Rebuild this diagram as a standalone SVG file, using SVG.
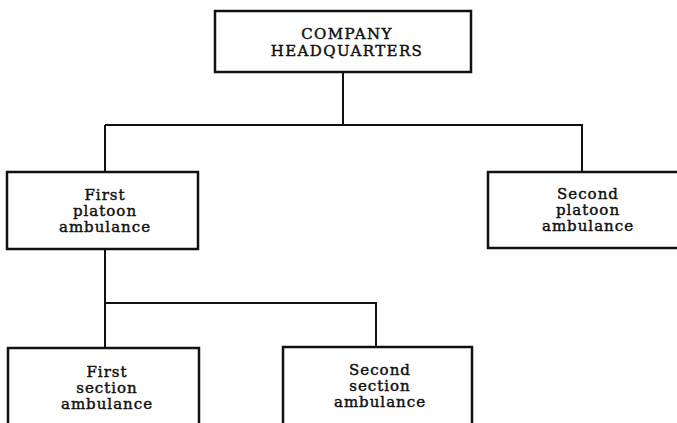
<svg xmlns="http://www.w3.org/2000/svg" width="677" height="423" viewBox="0 0 677 423">
<style>
.box{fill:#fff;stroke:#111;stroke-width:2.5}
.ln{fill:none;stroke:#111;stroke-width:2}
text{font-family:"DejaVu Serif","Liberation Serif",serif;font-size:15px;fill:#111;stroke:#111;stroke-width:0.45;text-anchor:middle;letter-spacing:1px}
.caps{letter-spacing:1.4px}
</style>
<rect width="677" height="423" fill="#fff"/>
<g id="connectors">
<path class="ln" d="M343 72V124M105 125H582V172M105 125V172"/>
<path class="ln" d="M105 249V303H376V347M105 303V348"/>
<path d="M370 421H455" stroke="#ccc" stroke-width="2"/>
<path d="M420 421H430" stroke="#333" stroke-width="2"/>
</g>
<g id="hq">
<rect class="box" x="215" y="11" width="256" height="61"/>
<text class="caps" x="347" y="39">COMPANY</text>
<text class="caps" x="347" y="56">HEADQUARTERS</text>
</g>
<g id="first-platoon">
<rect class="box" x="7" y="172" width="191" height="77"/>
<text x="105" y="200">First</text>
<text x="105" y="216">platoon</text>
<text x="105" y="232">ambulance</text>
</g>
<g id="second-platoon">
<rect class="box" x="488" y="172" width="200" height="76"/>
<text x="588" y="199">Second</text>
<text x="588" y="215">platoon</text>
<text x="588" y="231">ambulance</text>
</g>
<g id="first-section">
<path class="box" d="M8 430V348H199V430"/>
<text x="107" y="377">First</text>
<text x="107" y="393">section</text>
<text x="107" y="409">ambulance</text>
</g>
<g id="second-section">
<path class="box" d="M283 430V347H472V430"/>
<text x="380" y="375">Second</text>
<text x="380" y="391">section</text>
<text x="380" y="407">ambulance</text>
</g>
</svg>
